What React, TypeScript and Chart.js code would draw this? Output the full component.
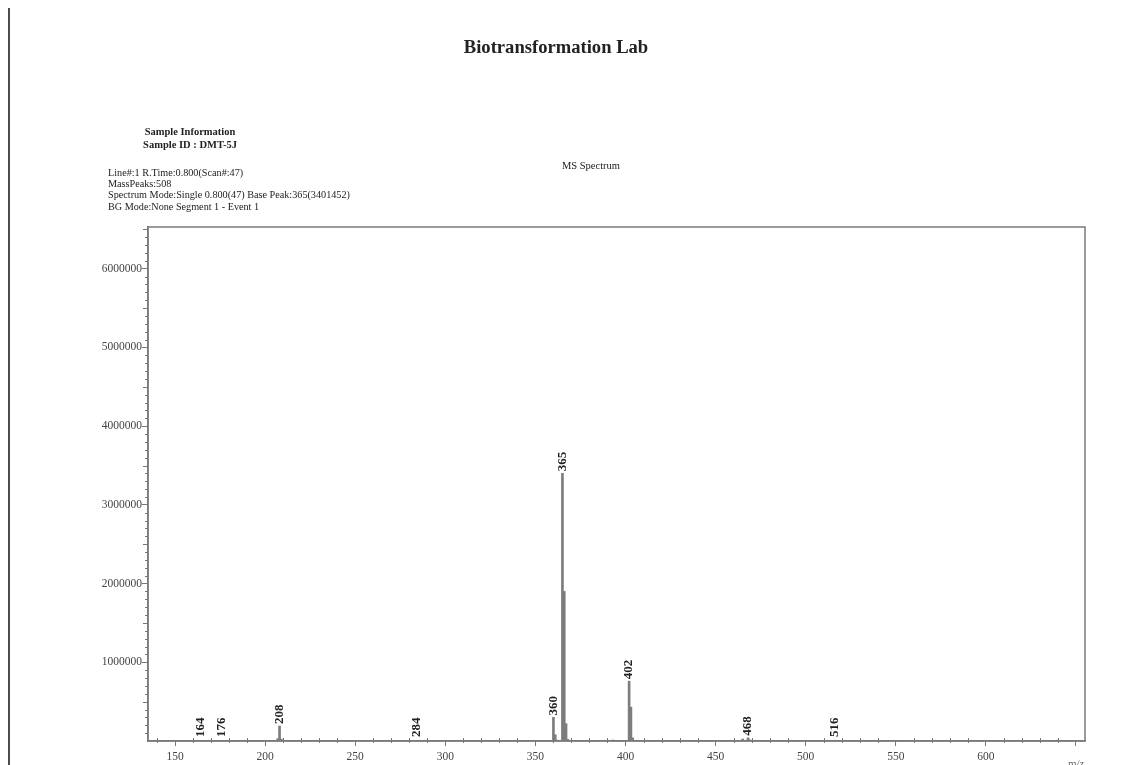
import React, { useEffect, useRef } from "react";
import { Chart, registerables } from "chart.js";

Chart.register(...registerables);

const masses = [164, 176, 207, 208, 209, 284, 360, 361, 362, 365, 366, 367, 368, 393, 402, 403, 404, 465, 466, 468, 469, 472, 516, 558, 570, 640];
const intensities = [5000, 5000, 30000, 190000, 25000, 5000, 300000, 80000, 12000, 3401452, 1900000, 220000, 20000, 12000, 760000, 430000, 40000, 25000, 10000, 40000, 15000, 8000, 10000, 6000, 8000, 12000];
const labeledPeaks = [164, 176, 208, 284, 360, 365, 402, 468, 516];
const xTickValues = [150, 200, 250, 300, 350, 400, 450, 500, 550, 600, 650];
const yTickValues = [1000000, 2000000, 3000000, 4000000, 5000000, 6000000];

const titleText = "Biotransformation Lab";
const sampleHeader = ["Sample Information", "Sample ID : DMT-5J"];
const infoLines = [
  "Line#:1 R.Time:0.800(Scan#:47)",
  "MassPeaks:508",
  "Spectrum Mode:Single 0.800(47) Base Peak:365(3401452)",
  "BG Mode:None Segment 1 - Event 1",
];
const subTitle = "MS Spectrum";
const xUnit = "m/z";

const SERIF = "'Liberation Serif', 'Times New Roman', serif";

const decorPlugin = {
  id: "decor",
  afterDraw(chart: any) {
    const ctx = chart.ctx;
    const area = chart.chartArea;
    const xs = chart.scales.x;
    const ys = chart.scales.y;
    ctx.save();
    // frame
    ctx.strokeStyle = "#7a7a7a";
    ctx.lineWidth = 1.5;
    ctx.strokeRect(area.left, area.top, area.right - area.left, area.bottom - area.top);

    // minor y ticks
    ctx.lineWidth = 1;
    ctx.strokeStyle = "#777";
    for (let v = 100000; v <= 6500000; v += 100000) {
      if (v % 1000000 === 0) continue;
      const py = Math.round(ys.getPixelForValue(v)) + 0.5;
      if (py < area.top) continue;
      const len = v % 500000 === 0 ? 5 : 3;
      ctx.beginPath();
      ctx.moveTo(area.left - len, py);
      ctx.lineTo(area.left, py);
      ctx.stroke();
    }
    // minor x ticks
    for (let v = 140; v <= 650; v += 10) {
      if (v % 50 === 0) continue;
      const px = Math.round(xs.getPixelForValue(v)) + 0.5;
      ctx.beginPath();
      ctx.moveTo(px, area.bottom - 3);
      ctx.lineTo(px, area.bottom + 2);
      ctx.stroke();
    }

    // peak labels
    ctx.fillStyle = "#222";
    ctx.font = `bold 13px ${SERIF}`;
    ctx.textAlign = "left";
    ctx.textBaseline = "middle";
    labeledPeaks.forEach((m) => {
      const i = masses.indexOf(m);
      const val = i >= 0 ? intensities[i] : 0;
      const px = xs.getPixelForValue(m);
      const py = ys.getPixelForValue(val);
      ctx.save();
      ctx.translate(px, Math.min(py, area.bottom - 2) - 2);
      ctx.rotate(-Math.PI / 2);
      ctx.fillText(String(m), 0, 0);
      ctx.restore();
    });

    // texts
    ctx.fillStyle = "#222";
    ctx.textBaseline = "middle";
    ctx.textAlign = "center";
    ctx.font = `bold 18.6px ${SERIF}`;
    ctx.fillText(titleText, 556, 48);
    ctx.font = `bold 10.5px ${SERIF}`;
    ctx.fillText(sampleHeader[0], 190, 132);
    ctx.fillText(sampleHeader[1], 190, 145);
    ctx.font = `10.5px ${SERIF}`;
    ctx.fillText(subTitle, 591, 166);
    ctx.textAlign = "left";
    ctx.font = `10.2px ${SERIF}`;
    infoLines.forEach((t, k) => ctx.fillText(t, 108, 173 + k * 11.4));
    ctx.font = `11px ${SERIF}`;
    ctx.textBaseline = "top";
    ctx.fillStyle = "#666";
    ctx.fillText(xUnit, 1068, 759);

    // page border
    ctx.strokeStyle = "#111";
    ctx.lineWidth = 1.5;
    ctx.beginPath();
    ctx.moveTo(9, 8);
    ctx.lineTo(9, 765);
    ctx.stroke();
    ctx.restore();
  },
};

export default function App() {
  const ref = useRef<HTMLCanvasElement>(null);
  useEffect(() => {
    if (!ref.current) return;
    const chart = new Chart(ref.current, {
      type: "bar",
      data: {
        datasets: [
          {
            data: masses.map((m, i) => ({ x: m, y: intensities[i] })),
            backgroundColor: "#7d7d7d",
            borderWidth: 0,
            barThickness: 2,
            grouped: false,
          } as any,
        ],
      },
      options: {
        animation: false,
        responsive: false,
        devicePixelRatio: 1,
        layout: { padding: { left: 0, top: 227, right: 54, bottom: 0 } },
        plugins: { legend: { display: false }, tooltip: { enabled: false } },
        scales: {
          x: {
            type: "linear",
            offset: false,
            min: 135,
            max: 655,
            afterBuildTicks: (s: any) => {
              s.ticks = xTickValues.map((v) => ({ value: v }));
            },
            afterFit: (s: any) => {
              s.height = 24;
            },
            ticks: {
              autoSkip: false,
              maxRotation: 0,
              padding: 4,
              color: "#444",
              font: { family: SERIF, size: 11.5 },
              callback: (v: any) => (v === 650 ? "" : String(v)),
            },
            grid: { display: true, offset: false, drawOnChartArea: false, drawTicks: true, tickLength: 5, color: "#777" },
            border: { display: true, color: "#7a7a7a", width: 1.5 },
          },
          y: {
            type: "linear",
            min: 0,
            max: 6530000,
            afterBuildTicks: (s: any) => {
              s.ticks = yTickValues.map((v) => ({ value: v }));
            },
            afterFit: (s: any) => {
              s.width = 148;
            },
            ticks: {
              autoSkip: false,
              padding: 0,
              color: "#444",
              font: { family: SERIF, size: 11.5 },
              callback: (v: any) => String(v),
            },
            grid: { display: true, drawOnChartArea: false, drawTicks: true, tickLength: 6, color: "#777" },
            border: { display: true, color: "#7a7a7a", width: 1.5 },
          },
        },
      },
      plugins: [decorPlugin],
    });
    return () => chart.destroy();
  }, []);
  return (
    <div style={{ position: "fixed", left: 0, top: 0, width: 1139, height: 765, background: "#fff" }}>
      <canvas ref={ref} width={1139} height={765} style={{ display: "block", width: 1139, height: 765 }} />
    </div>
  );
}
